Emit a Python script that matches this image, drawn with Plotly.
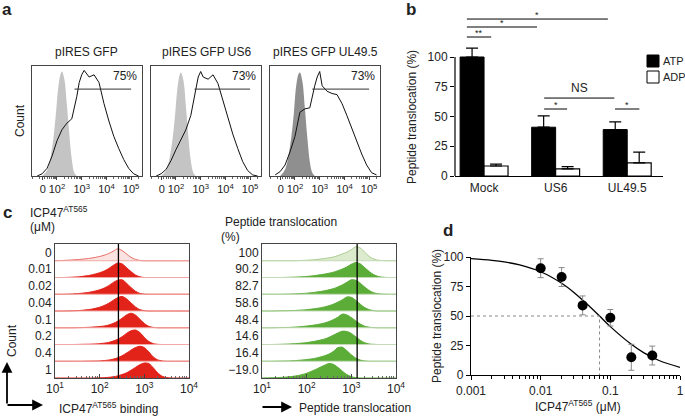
import plotly.graph_objects as go

W, H = 685, 416
def X(px): return px / W
def Y(py): return 1 - py / H

FONT = "Liberation Sans, Arial, Helvetica, sans-serif"
INK = "#222222"

# ---------------- Panel a data (flow cytometry, log10 fluorescence) ----------------
a_titles = ["pIRES GFP", "pIRES GFP US6", "pIRES GFP UL49.5"]
a_pct = ["75%", "73%", "73%"]
a_ctrl_xlog = [1.4, 1.6, 1.8, 1.95, 2.05, 2.15, 2.2, 2.3, 2.4, 2.5, 2.6, 2.7, 2.8]
a_ctrl_y = [
    [0, 0.05, 0.25, 0.55, 0.8, 0.93, 0.95, 0.88, 0.65, 0.38, 0.15, 0.03, 0],
    [0, 0.05, 0.24, 0.52, 0.78, 0.92, 0.94, 0.87, 0.64, 0.36, 0.14, 0.03, 0],
    [0, 0.06, 0.27, 0.56, 0.82, 0.93, 0.94, 0.86, 0.62, 0.35, 0.13, 0.03, 0],
]
a_ctrl_color = ["#c4c4c4", "#c4c4c4", "#8f8f8f"]
a_samp_xlog = [1.2, 1.4, 1.6, 1.8, 2.0, 2.2, 2.4, 2.6, 2.8, 2.9, 3.0, 3.1, 3.3,
               3.5, 3.7, 3.9, 4.1, 4.3, 4.5, 4.7, 4.9, 5.1, 5.3]
a_samp_y = [
    [0, 0.02, 0.07, 0.18, 0.32, 0.42, 0.48, 0.52, 0.72, 0.85, 0.92, 0.96, 0.90,
     0.92, 0.85, 0.66, 0.50, 0.36, 0.25, 0.15, 0.07, 0.02, 0],
    [0, 0.02, 0.06, 0.14, 0.24, 0.33, 0.42, 0.55, 0.78, 0.90, 0.95, 0.90, 0.88,
     0.92, 0.84, 0.68, 0.52, 0.38, 0.25, 0.13, 0.05, 0.01, 0],
    [0.01, 0.04, 0.10, 0.22, 0.36, 0.58, 0.61, 0.62, 0.82, 0.90, 0.95, 0.82, 0.77,
     0.75, 0.74, 0.66, 0.55, 0.43, 0.31, 0.20, 0.10, 0.03, 0.01],
]
a_gate_lo = [2.71, 2.75, 2.70]
a_gate_hi = [5.0, 5.0, 5.0]
a_gate_y = 0.79
a_tick_log = [1.43, 2, 3, 4, 5]
a_tick_text = ["0", "10<sup>2</sup>", "10<sup>3</sup>", "10<sup>4</sup>", "10<sup>5</sup>"]

# ---------------- Panel b data ----------------
b_categories = ["Mock", "US6", "UL49.5"]
b_atp = [100, 41, 39]
b_atp_err = [7.5, 9.5, 6.5]
b_adp = [8.4, 6.0, 11.0]
b_adp_err = [1.6, 1.8, 9.0]
b_series = ["ATP", "ADP"]
b_yticks = [0, 25, 50, 75, 100]
# significance brackets: start, end (category units), height (%), label
b_sig_x0 = [-0.24, -0.24, -0.24, 0.84, 0.84, 1.83]
b_sig_x1 = [0.10, 0.74, 1.73, 1.82, 1.16, 2.17]
b_sig_y = [116.8, 125.2, 131.9, 65.5, 56.3, 56.3]
b_sig_lab = ["**", "*", "*", "NS", "*", "*"]

# ---------------- Panel c data ----------------
c_left_title = ["ICP47<sup>AT565</sup>", "(μM)"]
c_left_rows = ["0", "0.01", "0.02", "0.04", "0.1", "0.2", "0.4", "1"]
c_left_xlog = [1.0, 1.2, 1.4, 1.6, 1.8, 2.0, 2.1, 2.2, 2.3, 2.4, 2.5, 2.6, 2.7, 2.8,
               2.9, 3.0, 3.1, 3.2, 3.3, 3.4, 3.5, 3.6, 3.8, 4.0]
c_left_y = [
    [0, 0.02, 0.05, 0.09, 0.15, 0.25, 0.32, 0.42, 0.55, 0.70, 0.60, 0.40, 0.20, 0.08,
     0.02, 0, 0, 0, 0, 0, 0, 0, 0, 0],
    [0, 0, 0.02, 0.06, 0.14, 0.28, 0.38, 0.52, 0.70, 0.85, 0.80, 0.58, 0.35, 0.15,
     0.04, 0, 0, 0, 0, 0, 0, 0, 0, 0],
    [0, 0, 0.02, 0.06, 0.13, 0.26, 0.36, 0.50, 0.68, 0.82, 0.85, 0.65, 0.40, 0.18,
     0.05, 0.01, 0, 0, 0, 0, 0, 0, 0, 0],
    [0, 0, 0.01, 0.04, 0.10, 0.22, 0.32, 0.45, 0.62, 0.78, 0.85, 0.72, 0.48, 0.24,
     0.08, 0.02, 0, 0, 0, 0, 0, 0, 0, 0],
    [0, 0, 0, 0.01, 0.03, 0.07, 0.10, 0.16, 0.25, 0.38, 0.55, 0.75, 0.85, 0.75,
     0.50, 0.25, 0.08, 0.02, 0, 0, 0, 0, 0, 0],
    [0, 0, 0, 0.01, 0.02, 0.05, 0.08, 0.12, 0.20, 0.30, 0.45, 0.65, 0.80, 0.85,
     0.70, 0.42, 0.18, 0.05, 0.01, 0, 0, 0, 0, 0],
    [0, 0, 0, 0, 0.01, 0.02, 0.04, 0.07, 0.12, 0.20, 0.32, 0.48, 0.65, 0.80,
     0.88, 0.80, 0.55, 0.25, 0.08, 0.02, 0, 0, 0, 0],
    [0, 0, 0, 0, 0, 0.01, 0.02, 0.04, 0.07, 0.12, 0.20, 0.30, 0.45, 0.62,
     0.78, 0.88, 0.85, 0.60, 0.30, 0.10, 0.03, 0, 0, 0],
]
c_left_marker = 2.42

c_right_title = ["Peptide translocation", "(%)"]
c_right_rows = ["100", "90.2", "82.7", "58.6", "48.4", "14.6", "16.4", "−19.0"]
c_right_xlog = [1.0, 1.2, 1.4, 1.6, 1.8, 2.0, 2.2, 2.4, 2.5, 2.6, 2.7, 2.8, 2.9, 3.0,
                3.1, 3.2, 3.3, 3.4, 3.5, 3.6, 3.7, 3.8, 3.9, 4.0]
c_right_y = [
    [0, 0, 0, 0, 0.01, 0.03, 0.07, 0.13, 0.17, 0.22, 0.30, 0.40, 0.50, 0.65,
     0.82, 0.75, 0.50, 0.25, 0.10, 0.03, 0.01, 0, 0, 0],
    [0, 0, 0, 0.01, 0.03, 0.06, 0.12, 0.20, 0.25, 0.31, 0.40, 0.50, 0.62, 0.78,
     0.88, 0.80, 0.58, 0.35, 0.17, 0.06, 0.02, 0, 0, 0],
    [0, 0, 0, 0.01, 0.03, 0.06, 0.12, 0.20, 0.26, 0.33, 0.43, 0.55, 0.70, 0.85,
     0.82, 0.65, 0.42, 0.22, 0.09, 0.03, 0.01, 0, 0, 0],
    [0, 0, 0.01, 0.02, 0.04, 0.08, 0.14, 0.24, 0.31, 0.40, 0.52, 0.66, 0.82, 0.80,
     0.62, 0.40, 0.20, 0.08, 0.02, 0, 0, 0, 0, 0],
    [0, 0, 0.01, 0.02, 0.05, 0.10, 0.17, 0.28, 0.36, 0.48, 0.62, 0.80, 0.75, 0.60,
     0.40, 0.22, 0.09, 0.03, 0.01, 0, 0, 0, 0, 0],
    [0, 0, 0.01, 0.03, 0.06, 0.11, 0.20, 0.32, 0.42, 0.55, 0.68, 0.78, 0.76, 0.65,
     0.45, 0.25, 0.10, 0.03, 0.01, 0, 0, 0, 0, 0],
    [0, 0, 0.01, 0.02, 0.05, 0.10, 0.18, 0.32, 0.42, 0.58, 0.80, 0.82, 0.62, 0.38,
     0.18, 0.07, 0.02, 0, 0, 0, 0, 0, 0, 0],
    [0, 0.01, 0.03, 0.07, 0.14, 0.28, 0.50, 0.75, 0.85, 0.80, 0.62, 0.40, 0.20, 0.08,
     0.02, 0, 0, 0, 0, 0, 0, 0, 0, 0],
]
c_right_marker = 3.13
c_tick_log = [1, 2, 3, 4]
c_tick_text = ["10<sup>1</sup>", "10<sup>2</sup>", "10<sup>3</sup>", "10<sup>4</sup>"]

# ---------------- Panel d data ----------------
d_conc = [0.01, 0.02, 0.04, 0.1, 0.2, 0.4]
d_trans = [90.5, 83.0, 59.0, 48.5, 15.0, 16.5]
d_err = [8.0, 8.0, 8.0, 7.0, 11.0, 8.0]
d_fit_x = [0.001, 0.002, 0.003, 0.005, 0.01, 0.02, 0.03, 0.05, 0.07, 0.1, 0.2, 0.3, 0.5, 1.0]
d_fit_y = [98.6, 97.2, 95.9, 93.3, 87.5, 77.8, 70.0, 58.3, 50.0, 41.0, 26.0, 19.0, 12.3, 6.5]
d_ic50 = 0.07
d_xticks = [0.001, 0.01, 0.1, 1]
d_xtick_text = ["0.001", "0.01", "0.1", "1"]
d_yticks = [0, 25, 50, 75, 100]

# ====================================================================================
fig = go.Figure()
layout = dict(
    width=W, height=H, margin=dict(l=0, r=0, t=0, b=0, autoexpand=False),
    paper_bgcolor="white", plot_bgcolor="white", showlegend=False,
    font=dict(family=FONT, size=12, color=INK),
)
shapes, annos = [], []

def txt(x, y, s, size=12, xanchor="center", yanchor="middle", bold=False, angle=0, color=INK):
    if bold:
        s = "<b>" + s + "</b>"
    annos.append(dict(x=X(x), y=Y(y), xref="paper", yref="paper", text=s, showarrow=False,
                      xanchor=xanchor, yanchor=yanchor, textangle=angle,
                      font=dict(family=FONT, size=size, color=color)))

# ---------------- Panel a ----------------
a_left = [32, 151, 270]
a_w = 110
a_range = [0.99, 5.44]
for i in range(3):
    xn = "" if i == 0 else str(i + 1)
    xa, ya = "x" + xn, "y" + xn
    fig.add_trace(go.Scatter(x=[10 ** v for v in a_ctrl_xlog], y=a_ctrl_y[i], xaxis=xa, yaxis=ya,
                             mode="lines", line=dict(width=0, color=a_ctrl_color[i]),
                             fill="tozeroy", fillcolor=a_ctrl_color[i], line_shape="spline"))
    fig.add_trace(go.Scatter(x=[10 ** v for v in a_samp_xlog], y=a_samp_y[i], xaxis=xa, yaxis=ya,
                             mode="lines", line=dict(width=1, color="#111111")))
    fig.add_trace(go.Scatter(x=[10 ** a_gate_lo[i], 10 ** a_gate_hi[i]], y=[a_gate_y, a_gate_y],
                             xaxis=xa, yaxis=ya, mode="lines", line=dict(width=1, color="#333333")))
    layout["xaxis" + xn] = dict(
        type="log", range=a_range, domain=[X(a_left[i]), X(a_left[i] + a_w)], anchor=ya,
        showline=True, mirror=True, linecolor="#444", linewidth=1, showgrid=False, zeroline=False,
        tickmode="array", tickvals=[10 ** v for v in a_tick_log], ticktext=a_tick_text, tickangle=0,
        ticks="outside", ticklen=3, tickcolor="#444", tickfont=dict(size=11), automargin=False,
        minor=dict(ticks="outside", ticklen=2, dtick="D1", tickcolor="#666", showgrid=False),
    )
    layout["yaxis" + xn] = dict(
        range=[0, 1.0], domain=[Y(176), Y(66)], anchor=xa, showline=True, mirror=True,
        linecolor="#444", linewidth=1, showgrid=False, zeroline=False, showticklabels=False, ticks="",
        automargin=False,
    )
    txt(a_left[i] + a_w / 2, 52, a_titles[i])
    txt(a_left[i] + a_w - 3, 76, a_pct[i], xanchor="right")
txt(20, 121, "Count", angle=-90)
txt(7, 9, "a", size=17, bold=True)

# ---------------- Panel b ----------------
b_pxu = 1.19
b_top = 176 - 135 * b_pxu
xb = list(range(len(b_categories)))
fig.add_trace(go.Bar(x=xb, y=b_atp, name=b_series[0], xaxis="x4", yaxis="y4",
                     marker=dict(color="black", line=dict(color="black", width=1)),
                     error_y=dict(type="data", symmetric=False, array=b_atp_err,
                                  arrayminus=[0] * 3, width=6, thickness=1.2, color="black")))
fig.add_trace(go.Bar(x=xb, y=b_adp, name=b_series[1], xaxis="x4", yaxis="y4",
                     marker=dict(color="white", line=dict(color="black", width=1.2)),
                     error_y=dict(type="data", symmetric=False, array=b_adp_err,
                                  arrayminus=[0] * 3, width=6, thickness=1.2, color="black")))
layout["barmode"] = "group"
layout["bargap"] = 0.33
layout["bargroupgap"] = 0
layout["xaxis4"] = dict(
    range=[-0.406, 2.5], domain=[X(455), X(663)], anchor="y4", showline=True, linecolor="black",
    linewidth=1.2, tickmode="array", tickvals=xb, ticktext=b_categories, ticks="", showgrid=False,
    zeroline=False, tickfont=dict(size=12), automargin=False,
)
layout["yaxis4"] = dict(
    range=[0, 135], domain=[Y(176), Y(b_top)], anchor="x4", showline=False, showgrid=False,
    zeroline=False, tickmode="array", tickvals=b_yticks, ticks="outside", ticklen=4,
    tickcolor="black", tickwidth=1.2, tickfont=dict(size=12), automargin=False,
)
shapes.append(dict(type="line", xref="paper", yref="y4", x0=X(455), x1=X(455), y0=0, y1=100,
                   line=dict(color="black", width=1.2)))
for x0, x1, yv, lab in zip(b_sig_x0, b_sig_x1, b_sig_y, b_sig_lab):
    shapes.append(dict(type="line", xref="x4", yref="y4", x0=x0, x1=x1, y0=yv, y1=yv,
                       line=dict(color="black", width=1)))
    if lab == "NS":
        annos.append(dict(x=(x0 + x1) / 2, y=yv, xref="x4", yref="y4", text=lab, showarrow=False,
                          yanchor="bottom", yshift=1, font=dict(size=12, family=FONT, color=INK)))
    else:
        annos.append(dict(x=(x0 + x1) / 2, y=yv, xref="x4", yref="y4", text=lab, showarrow=False,
                          yanchor="bottom", yshift=-3, font=dict(size=9, family=FONT, color=INK)))
# legend (manual)
shapes.append(dict(type="rect", xref="paper", yref="paper", x0=X(647), x1=X(659), y0=Y(67), y1=Y(55),
                   fillcolor="black", line=dict(color="black", width=1)))
shapes.append(dict(type="rect", xref="paper", yref="paper", x0=X(647), x1=X(659), y0=Y(83), y1=Y(71),
                   fillcolor="white", line=dict(color="black", width=1)))
txt(661, 61, b_series[0], size=11, xanchor="left")
txt(661, 77, b_series[1], size=11, xanchor="left")
txt(412, 117, "Peptide translocation (%)", angle=-90)
txt(411, 9, "b", size=17, bold=True)

# ---------------- Panel c ----------------
def c_panel(xn, xlog, rows, labels, left, fill, fill0, line0, sep, marker):
    xa, ya = "x" + xn, "y" + xn
    nrow = len(rows)
    for i, vals in enumerate(rows):
        base = nrow - 1 - i
        fc, lc = (fill0, line0) if i == 0 else (fill, fill)
        fig.add_trace(go.Scatter(x=[10 ** v for v in xlog], y=[base + 1.02 * v for v in vals],
                                 xaxis=xa, yaxis=ya, mode="lines", fill="toself", fillcolor=fc,
                                 line=dict(color=lc, width=1, shape="spline", smoothing=0.8)))
        if base > 0:
            shapes.append(dict(type="line", xref=xa + " domain", yref=ya, x0=0, x1=1, y0=base, y1=base,
                               line=dict(color=sep, width=1)))
    shapes.append(dict(type="line", xref=xa, yref=ya, x0=10 ** marker, x1=10 ** marker, y0=0, y1=nrow,
                       line=dict(color="black", width=1.3)))
    layout["xaxis" + xn] = dict(
        type="log", range=[1, 4], domain=[X(left), X(left + 134)], anchor=ya, showline=True,
        mirror=True, linecolor="#444", linewidth=1, showgrid=False, zeroline=False,
        tickmode="array", tickvals=[10 ** v for v in c_tick_log], ticktext=c_tick_text, tickangle=0,
        ticks="inside", ticklen=4, tickcolor="#444", tickfont=dict(size=12), automargin=False,
        minor=dict(ticks="inside", ticklen=2, dtick="D1", tickcolor="#666", showgrid=False),
    )
    layout["yaxis" + xn] = dict(
        range=[0, nrow], domain=[Y(378), Y(244)], anchor=xa, showline=True, mirror=True,
        linecolor="#444", linewidth=1, showgrid=False, zeroline=False, tickmode="array",
        tickvals=[nrow - 1 - i + 0.5 for i in range(nrow)], ticktext=labels, ticks="",
        tickfont=dict(size=12), automargin=False,
    )

c_panel("5", c_left_xlog, c_left_y, c_left_rows, 55, "#e2231a", "#fbe3e1", "#e86a64",
        "#f2aaa6", c_left_marker)
c_panel("6", c_right_xlog, c_right_y, c_right_rows, 262, "#5bad38", "#dcebcd", "#a9cc8f",
        "#c5dbb8", c_right_marker)

txt(8, 212, "c", size=17, bold=True)
txt(28, 212, c_left_title[0], xanchor="left")
txt(28, 227, c_left_title[1], xanchor="left")
txt(223, 222, c_right_title[0], xanchor="left")
txt(219, 237, c_right_title[1], xanchor="left")
txt(12, 341, "Count", angle=-90)
txt(57, 408, "ICP47<sup>AT565</sup> binding", xanchor="left")
txt(297, 408, "Peptide translocation", xanchor="left")
for (tx, ty, dx, dy) in [(7, 362, 0, 43), (43, 405, -37, 0), (292, 407, -31, 0)]:
    annos.append(dict(x=X(tx), y=Y(ty), xref="paper", yref="paper", ax=dx, ay=dy, text="",
                      showarrow=True, arrowhead=2, arrowsize=1.2, arrowwidth=1.8, arrowcolor="black"))

# ---------------- Panel d ----------------
fig.add_trace(go.Scatter(x=d_fit_x, y=d_fit_y, xaxis="x7", yaxis="y7", mode="lines",
                         line=dict(color="black", width=1.3, shape="spline")))
fig.add_trace(go.Scatter(x=[d_fit_x[0], d_ic50, d_ic50], y=[50, 50, 0], xaxis="x7", yaxis="y7",
                         mode="lines", line=dict(color="#888888", width=1, dash="dot")))
fig.add_trace(go.Scatter(x=d_conc, y=d_trans, xaxis="x7", yaxis="y7", mode="markers",
                         marker=dict(color="black", size=10),
                         error_y=dict(type="data", array=d_err, width=3, thickness=1, color="#888888")))
layout["xaxis7"] = dict(
    type="log", range=[-3, 0], domain=[X(471), X(680)], anchor="y7", showline=True, linecolor="black",
    linewidth=1.2, showgrid=False, zeroline=False, tickmode="array", tickvals=d_xticks,
    ticktext=d_xtick_text, tickangle=0, ticks="outside", ticklen=4, tickcolor="black",
    tickfont=dict(size=12), automargin=False,
    minor=dict(ticks="outside", ticklen=2.5, dtick="D1", tickcolor="black", showgrid=False),
)
layout["yaxis7"] = dict(
    range=[0, 100], domain=[Y(375), Y(257)], anchor="x7", showline=True, linecolor="black",
    linewidth=1.2, showgrid=False, zeroline=False, tickmode="array", tickvals=d_yticks,
    ticks="outside", ticklen=4, tickcolor="black", tickfont=dict(size=12), automargin=False,
)
txt(448, 230, "d", size=17, bold=True)
txt(437, 316, "Peptide translocation (%)", angle=-90)
txt(578, 406, "ICP47<sup>AT565</sup> (μM)")

layout["shapes"] = shapes
layout["annotations"] = annos
fig.update_layout(**layout)
fig.write_html("out.html", config={"displayModeBar": False},
               post_script="document.body.style.margin='0';")
